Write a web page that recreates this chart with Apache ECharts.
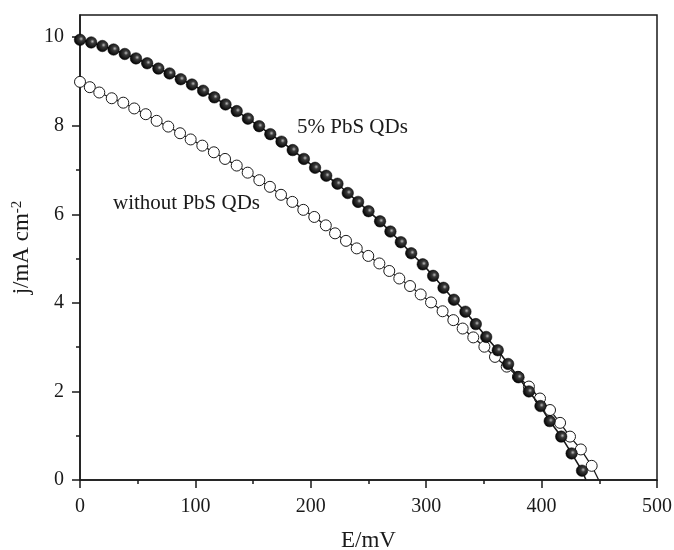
<!DOCTYPE html>
<html>
<head>
<meta charset="utf-8">
<script src="https://cdn.jsdelivr.net/npm/echarts@6/dist/echarts.min.js"></script>
<style>html,body{margin:0;padding:0;background:#fff}#c{width:674px;height:550px}</style>
</head>
<body>
<div id="c"></div>
<script>
// 5% PbS QDs (filled markers)
var pbsX = [0, 9.7, 19.4, 29.1, 38.8, 48.5, 58.2, 67.9, 77.6, 87.3, 97, 106.7, 116.4, 126.1, 135.8, 145.5, 155.2, 164.9, 174.6, 184.3, 194, 203.7, 213.4, 223.1, 232, 241, 250, 260, 269, 278, 287, 297, 306, 315, 324, 334, 343, 352, 362, 371, 380, 389, 399, 407, 417, 426, 435, 438.5];
var pbsY = [9.94, 9.88, 9.80, 9.72, 9.62, 9.52, 9.41, 9.29, 9.18, 9.05, 8.93, 8.79, 8.64, 8.48, 8.33, 8.16, 7.99, 7.81, 7.64, 7.45, 7.25, 7.05, 6.87, 6.69, 6.48, 6.28, 6.07, 5.84, 5.61, 5.37, 5.12, 4.87, 4.61, 4.34, 4.07, 3.80, 3.52, 3.23, 2.93, 2.62, 2.32, 2.00, 1.67, 1.33, 0.98, 0.60, 0.21, 0];
// without PbS QDs (open markers)
var bareX = [0, 8.5, 16.7, 27.5, 37.5, 47, 57, 66.4, 76.5, 86.7, 95.9, 106, 116, 125.7, 135.8, 145.3, 155.4, 164.6, 174.2, 184, 193.5, 203, 213, 221, 230.5, 239.8, 249.8, 259.4, 268, 276.7, 286, 295.2, 304.2, 314.2, 323.5, 331.6, 340.8, 350.4, 359.6, 369.8, 379.5, 389, 398.6, 407.3, 416, 424.6, 434, 443.4, 449.5];
var bareY = [8.99, 8.87, 8.75, 8.62, 8.52, 8.39, 8.26, 8.11, 7.98, 7.83, 7.69, 7.55, 7.40, 7.25, 7.10, 6.94, 6.77, 6.62, 6.44, 6.28, 6.10, 5.94, 5.75, 5.57, 5.40, 5.23, 5.06, 4.89, 4.72, 4.55, 4.38, 4.19, 4.01, 3.81, 3.61, 3.42, 3.22, 3.01, 2.78, 2.56, 2.33, 2.11, 1.84, 1.58, 1.29, 0.98, 0.69, 0.32, 0];

var yMajor = [0, 2, 4, 6, 8, 10];
var yMinor = [1, 3, 5, 7, 9];
var labelPbs = '5% PbS QDs';
var labelBare = 'without PbS QDs';

function build(xs, ys) {
  return xs.map(function (x, i) {
    var d = { value: [x, ys[i]] };
    if (i === xs.length - 1) d.symbol = 'none';
    return d;
  });
}

var FONT = '"Liberation Serif", "Times New Roman", serif';
var INK = '#1a1a1a';
var chart = echarts.init(document.getElementById('c'), null, { renderer: 'canvas' });

var yBase = {
  type: 'value', min: 0, max: 10.5, position: 'left',
  splitLine: { show: false }
};

chart.setOption({
  animation: false,
  backgroundColor: '#fff',
  grid: { left: 80, right: 17, top: 15, bottom: 70, containLabel: false, outerBoundsMode: 'none',
    show: true, borderColor: INK, borderWidth: 1.5, backgroundColor: 'transparent' },
  xAxis: {
    type: 'value', min: 0, max: 500, interval: 100,
    name: 'E/mV', nameLocation: 'middle', nameGap: 49,
    nameTextStyle: { fontFamily: FONT, fontSize: 23, color: INK },
    axisLine: { show: true, lineStyle: { color: INK, width: 1.5 } },
    axisTick: { show: true, length: 8, lineStyle: { color: INK, width: 1.5 } },
    minorTick: { show: true, splitNumber: 2, length: 4, lineStyle: { color: INK, width: 1.5 } },
    axisLabel: { fontFamily: FONT, fontSize: 20, color: INK, margin: 17 },
    splitLine: { show: false }, minorSplitLine: { show: false }
  },
  yAxis: [
    Object.assign({}, yBase, {
      name: 'j/mA cm{sup|-2}', nameLocation: 'middle', nameGap: 43,
      nameTextStyle: { fontFamily: FONT, fontSize: 23, color: INK,
        rich: { sup: { fontFamily: FONT, fontSize: 15, color: INK, verticalAlign: 'top', padding: [0, 0, 10, 0] } } },
      axisLine: { show: true, lineStyle: { color: INK, width: 1.5 } },
      axisTick: { show: true, length: 8, customValues: yMajor, lineStyle: { color: INK, width: 1.5 } },
      axisLabel: { fontFamily: FONT, fontSize: 20, color: INK, margin: 16, customValues: yMajor }
    }),
    Object.assign({}, yBase, {
      axisLine: { show: false },
      axisTick: { show: true, length: 4, customValues: yMinor, lineStyle: { color: INK, width: 1.5 } },
      axisLabel: { show: false, customValues: yMinor }
    })
  ],
  graphic: [
    { type: 'text', left: 297, top: 117, style: { text: labelPbs, font: '21px ' + FONT, fill: INK } },
    { type: 'text', left: 113, top: 193, style: { text: labelBare, font: '21px ' + FONT, fill: INK } }
  ],
  series: [
    {
      type: 'line', data: build(bareX, bareY), symbol: 'circle', symbolSize: 11,
      lineStyle: { color: INK, width: 1.3 },
      itemStyle: { color: '#fff', borderColor: INK, borderWidth: 1 },
      z: 2
    },
    {
      type: 'line', data: build(pbsX, pbsY), symbol: 'circle', symbolSize: 11.5,
      lineStyle: { color: INK, width: 1.6 },
      itemStyle: {
        color: { type: 'radial', x: 0.6, y: 0.42, r: 0.6, colorStops: [
          { offset: 0, color: '#bbbbbb' }, { offset: 0.3, color: '#3a3a3a' }, { offset: 1, color: '#000' }] },
        borderColor: '#000', borderWidth: 0.5
      },
      z: 3
    }
  ]
});
</script>
</body>
</html>
